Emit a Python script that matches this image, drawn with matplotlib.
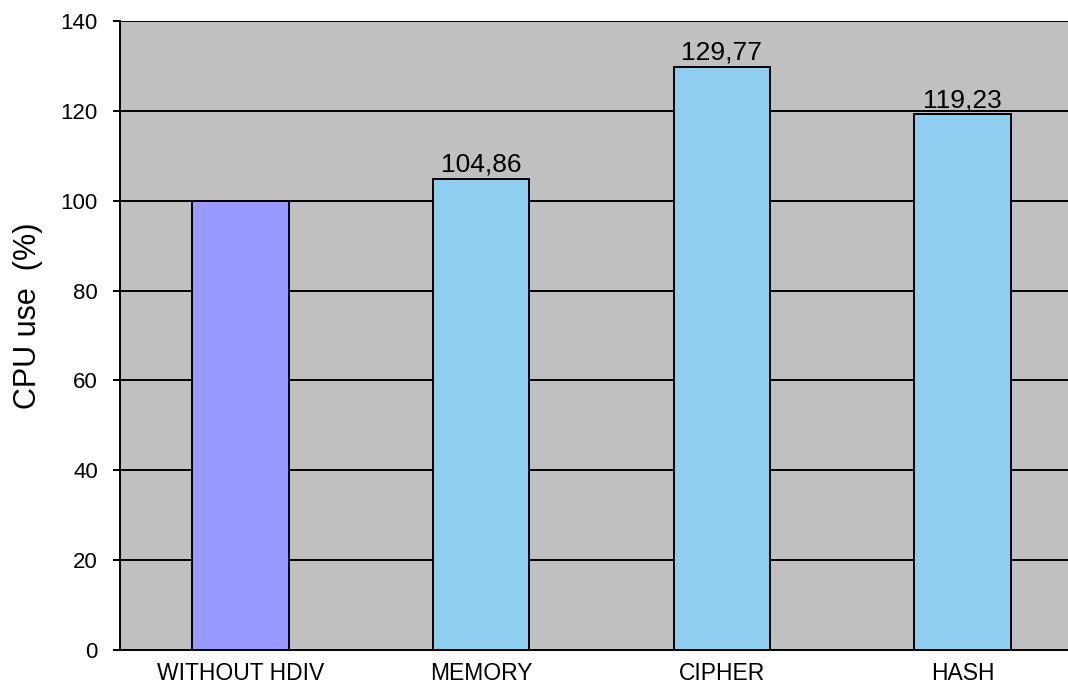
import matplotlib.pyplot as plt
import numpy as np

# data
categories = ["WITHOUT HDIV", "MEMORY", "CIPHER", "HASH"]
cpu_use = [100.0, 104.86, 129.77, 119.23]
value_labels = ["", "104,86", "129,77", "119,23"]
bar_colors = ["#9999FF", "#8FCDF1", "#8FCDF1", "#8FCDF1"]
y_ticks = [0, 20, 40, 60, 80, 100, 120, 140]

plt.rcParams["font.family"] = ["Liberation Sans", "DejaVu Sans"]

fig = plt.figure(figsize=(10.68, 6.85), dpi=100)
# axes run past the right edge of the image, as in the reference
ax = fig.add_axes([120 / 1068, 1 - 650 / 685, 963 / 1068, 629 / 685])
ax.set_facecolor("#C0C0C0")

x = np.arange(len(categories))
ax.set_axisbelow(True)
ax.yaxis.grid(True, color="black", linewidth=1.4)
bars = ax.bar(x, cpu_use, width=0.4, color=bar_colors,
              edgecolor="black", linewidth=1.4, zorder=3)

for rect, txt in zip(bars, value_labels):
    if txt:
        ax.text(rect.get_x() + rect.get_width() / 2, rect.get_height() + 1.6,
                txt, ha="center", va="baseline", fontsize=19, zorder=4)

ax.set_xlim(-0.5, 3.5)
ax.set_ylim(0, 140)
ax.set_yticks(y_ticks)
ax.set_yticklabels([str(v) for v in y_ticks], fontsize=16)
ax.set_xticks(x)
ax.set_xticklabels(categories, fontsize=16.5)
ax.tick_params(axis="x", length=0, pad=9)
ax.tick_params(axis="y", length=5, width=1.4, pad=11)

for side in ["left", "bottom"]:
    ax.spines[side].set_linewidth(1.4)
ax.spines["top"].set_visible(False)
ax.spines["right"].set_visible(False)

ax.set_ylabel("CPU use  (%)", fontsize=22, va="center")
ax.yaxis.set_label_coords(-0.0955, 0.531)

fig.savefig("out.png", dpi=100)
